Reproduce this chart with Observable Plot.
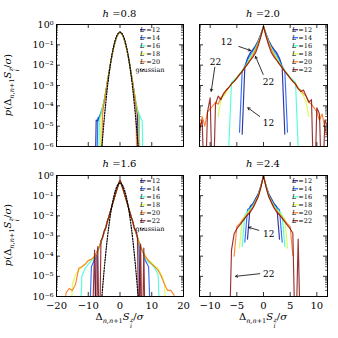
<!DOCTYPE html>
<html>
<head>
<meta charset="utf-8">
<script src="https://cdn.jsdelivr.net/npm/d3@7"></script>
<script src="https://cdn.jsdelivr.net/npm/@observablehq/plot@0.6"></script>
<style>
html,body{margin:0;padding:0;background:#fff;}
#root{position:relative;width:338px;height:338px;overflow:hidden;font-family:"DejaVu Serif",serif;color:#000;}
#root svg{position:absolute;}
.lbl{position:absolute;white-space:nowrap;font-family:"DejaVu Serif",serif;font-size:10px;line-height:1;transform:translate(-50%,-50%);}
.rot{transform:translate(-50%,-50%) rotate(-90deg);}
.ss{display:inline-flex;flex-direction:column;font-size:0.62em;line-height:0.95;vertical-align:-0.4em;margin-left:0.5px;}
.sb{font-size:0.65em;vertical-align:-0.35em;}
</style>
</head>
<body>
<div id="root"></div>
<script>
const _ = null;

// ---------- legend / series ----------
const sizesL = ["12","14","16","18","20","22"];
const colors = ["#00007f","#004cff","#29ffce","#ceff29","#ff6800","#7f0000"];

// ---------- ticks ----------
const yMajor = [1e-6,1e-5,1e-4,1e-3,1e-2,1e-1,1];
const yTickLabels = ["10\u207B\u2076","10\u207B\u2075","10\u207B\u2074","10\u207B\u00B3","10\u207B\u00B2","10\u207B\u00B9","10\u2070"];
const xTicksLeft = [-20,-10,0,10,20];
const xTicksRight = [-10,-5,0,5,10];

// ---------- h = 0.8 ----------
const xs08 = [-8,-7.5,-7,-6.5,-6,-5.5,-5,-4.5,-4,-3.5,-3,-2.5,-2,-1.5,-1,-0.5,0,0.5,1,1.5,2,2.5,3,3.5,4,4.5,5,5.5,6,6.5,7,7.5,8];
const h08_L12 = [0,2e-5,1.8e-5,3e-5,4e-5,7e-5,1.6e-4,4.5e-4,1.4e-3,4e-3,.012,.032,.075,.15,.26,.36,.42,.36,.26,.15,.075,.032,.012,4e-3,1.3e-3,4e-4,1.2e-4,4e-5,0,_,_,_,_];
const h08_L14 = [_,0,2.5e-5,2.8e-5,5e-5,8e-5,1.7e-4,4.6e-4,1.4e-3,4e-3,.012,.032,.075,.15,.26,.36,.42,.36,.26,.15,.075,.032,.012,4e-3,1.3e-3,4.2e-4,1.4e-4,6e-5,3e-5,0,_,_,_];
const h08_L16 = [_,_,0,2.2e-5,4.5e-5,9e-5,1.8e-4,4.8e-4,1.4e-3,4e-3,.012,.032,.075,.15,.26,.36,.42,.36,.26,.15,.075,.032,.012,4e-3,1.3e-3,4.4e-4,1.5e-4,7e-5,4e-5,2.6e-5,1.8e-5,0,_];
const h08_L18 = [_,_,_,0,3e-5,8e-5,1.8e-4,4.7e-4,1.4e-3,4e-3,.012,.032,.075,.15,.26,.36,.42,.36,.26,.15,.075,.032,.012,4e-3,1.3e-3,4.3e-4,1.5e-4,6e-5,2.5e-5,0,_,_,_];
const h08_L20 = [_,_,_,_,0,4e-5,1.5e-4,4.5e-4,1.4e-3,4e-3,.012,.032,.075,.15,.26,.36,.42,.36,.26,.15,.075,.032,.012,4e-3,1.3e-3,4e-4,1.2e-4,0,_,_,_,_,_];

// ---------- gaussian (dotted) ----------
const gaussX = [-6.5,-6,-5.5,-5,-4.5,-4,-3.5,-3,-2.5,-2,-1.5,-1,-0.5,0,0.5,1,1.5,2,2.5,3,3.5,4,4.5,5,5.5,6,6.5];
const gaussP = [2e-8,2.5e-7,2.4e-6,2e-5,1.3e-4,7.2e-4,3.2e-3,.0117,.035,.085,.171,.28,.38,.42,.38,.28,.171,.085,.035,.0117,3.2e-3,7.2e-4,1.3e-4,2e-5,2.4e-6,2.5e-7,2e-8];

// ---------- h = 1.6 ----------
const xs16 = [-18,-17,-16,-15,-14,-13,-12,-11,-10,-9,-8,-7.5,-7,-6.5,-6,-5.5,-5,-4.5,-4,-3.5,-3,-2.5,-2,-1.5,-1,-0.5,0,0.5,1,1.5,2,2.5,3,3.5,4,4.5,5,5.5,6,6.5,7,7.5,8,9,10,11,12,13,14,15,16,17,18];
const h16_L12 = [_,_,_,_,_,_,_,_,_,_,0,1.3e-4,2e-4,3e-4,5e-4,8.5e-4,1.5e-3,2.7e-3,5e-3,9e-3,.017,.032,.06,.11,.2,.35,.6,.35,.2,.11,.06,.032,.017,9e-3,5e-3,2.7e-3,1.5e-3,8e-4,4.5e-4,0,_,_,_,_,_,_,_,_,_,_,_,_,_];
const h16_L14 = [_,_,_,_,_,_,_,_,0,3e-5,7e-5,1.2e-4,1.9e-4,2.8e-4,4.6e-4,8.5e-4,1.5e-3,2.7e-3,5e-3,9e-3,.017,.032,.06,.11,.2,.35,.6,.35,.2,.11,.06,.032,.017,9e-3,5e-3,2.7e-3,1.5e-3,8.5e-4,4.6e-4,2.8e-4,1.9e-4,1.2e-4,6e-5,3e-5,0,_,_,_,_,_,_,_,_];
const h16_L16 = [_,_,_,_,_,0,1e-5,2.5e-5,4e-5,6e-5,8e-5,1.3e-4,2e-4,3e-4,4.8e-4,8.5e-4,1.5e-3,2.7e-3,5e-3,9e-3,.017,.032,.06,.11,.2,.35,.6,.35,.2,.11,.06,.032,.017,9e-3,5e-3,2.7e-3,1.5e-3,8.5e-4,4.8e-4,3e-4,2e-4,1.3e-4,8e-5,5e-5,4e-5,2.5e-5,1.2e-5,0,_,_,_,_,_];
const h16_L18 = [_,_,0,4e-6,1.2e-5,2e-5,3e-5,4e-5,6e-5,7e-5,9e-5,1.3e-4,2e-4,3e-4,5e-4,8.5e-4,1.5e-3,2.7e-3,5e-3,9e-3,.017,.032,.06,.11,.2,.35,.6,.35,.2,.11,.06,.032,.017,9e-3,5e-3,2.7e-3,1.5e-3,8.5e-4,5e-4,3e-4,2e-4,1.4e-4,9e-5,6e-5,5e-5,3e-5,2.5e-5,1.2e-5,5e-6,0,_,_,_];
const h16_L20 = [0,1.5e-6,2.5e-6,2e-6,4e-6,2.5e-5,3e-5,4e-5,6e-5,7e-5,1e-4,1.3e-4,2e-4,3e-4,5e-4,8.5e-4,1.5e-3,2.7e-3,5e-3,9e-3,.017,.032,.06,.11,.2,.35,.6,.35,.2,.11,.06,.032,.017,9e-3,5e-3,2.7e-3,1.5e-3,8.5e-4,5e-4,3e-4,2e-4,1.4e-4,1e-4,6e-5,4e-5,3e-5,2e-5,1e-5,4e-6,2e-6,2e-6,1.2e-6,0];
const h16_L22 = [_,_,_,_,_,_,_,_,_,0,2e-4,0,3e-4,0,6e-4,8e-4,1.8e-3,2.4e-3,5.5e-3,9e-3,.017,.032,.06,.11,.2,.35,.6,.35,.2,.11,.06,.032,.017,9e-3,5.5e-3,2.4e-3,1.8e-3,9e-4,0,4e-4,0,2.5e-4,0,_,_,_,_,_,_,_,_,_,_];

// ---------- h = 2.0 and h = 2.4 (shared bin grid) ----------
const xsR = [-12,-11.5,-11,-10.5,-10,-9.5,-9,-8.5,-8,-7.5,-7,-6.5,-6,-5.5,-5,-4.5,-4,-3.5,-3,-2.5,-2,-1.5,-1,-0.5,0,0.5,1,1.5,2,2.5,3,3.5,4,4.5,5,5.5,6,6.5,7,7.5,8,8.5,9,9.5,10,10.5,11,11.5,12];

const h20_L12 = [_,_,_,_,_,_,_,_,_,_,_,_,_,_,_,_,4e-6,8e-3,.022,.04,.058,.09,.16,.33,.8,.33,.16,.09,.058,.04,.022,8e-3,4e-6,_,_,_,_,_,_,_,_,_,_,_,_,_,_,_,_];
const h20_L14 = [_,_,_,_,_,_,_,_,_,_,_,_,_,_,_,5e-6,5e-3,9e-3,.018,.032,.05,.08,.15,.32,.8,.32,.15,.08,.05,.032,.018,9e-3,5e-3,5e-6,_,_,_,_,_,_,_,_,_,_,_,_,_,_,_];
const h20_L16 = [_,_,_,_,_,_,_,_,_,_,_,1e-6,1.4e-3,1.9e-3,2.6e-3,3.7e-3,5.5e-3,8e-3,.014,.025,.04,.07,.14,.31,.8,.31,.14,.07,.04,.025,.014,8e-3,5.5e-3,3.7e-3,2.6e-3,1.9e-3,1.4e-3,1e-6,_,_,_,_,_,_,_,_,_,_,_];
const h20_L18 = [_,_,_,_,_,_,_,3e-5,2e-4,3e-4,4.5e-4,8e-4,1.2e-3,1.7e-3,2.4e-3,3.5e-3,5.2e-3,7.8e-3,.012,.021,.034,.06,.125,.29,.8,.29,.125,.06,.034,.021,.012,7.8e-3,5.2e-3,3.5e-3,2.4e-3,1.7e-3,1.2e-3,8e-4,5e-4,3e-4,1.5e-4,3e-5,_,_,_,_,_,_,_];
const h20_L20 = [5e-6,3e-5,1e-5,5e-5,7e-5,1e-4,1.5e-4,1.2e-4,2.5e-4,3.5e-4,5.5e-4,8e-4,1.2e-3,1.6e-3,2.3e-3,3.4e-3,5e-3,7.6e-3,.0115,.018,.03,.055,.12,.28,.8,.28,.12,.055,.03,.018,.0115,7.6e-3,5e-3,3.4e-3,2.3e-3,1.6e-3,1.1e-3,7e-4,6e-4,4e-4,3e-4,1.5e-4,1.2e-4,8e-5,5e-5,2e-5,4e-5,8e-6,3e-6];
const h20_L22 = [8e-6,2e-5,0,5e-5,2.5e-4,0,1.2e-4,3e-4,2e-4,4e-4,6e-4,8e-4,1.2e-3,1.6e-3,2.3e-3,3.4e-3,5e-3,7.5e-3,.011,.017,.025,.04,.09,.25,.8,.25,.09,.04,.025,.017,.011,7.5e-3,5e-3,3.4e-3,2.3e-3,1.6e-3,1.2e-3,7e-4,5e-4,6e-4,3e-4,1.5e-4,2e-4,0,8e-5,4e-5,0,2e-5,1e-5];

const h24_L12 = [_,_,_,_,_,_,_,_,_,_,_,_,_,_,_,_,_,_,7e-4,.03,.04,.07,.12,.3,.95,.3,.12,.07,.04,.028,7e-4,_,_,_,_,_,_,_,_,_,_,_,_,_,_,_,_,_,_];
const h24_L14 = [_,_,_,_,_,_,_,_,_,_,_,_,_,_,_,_,_,5e-4,.02,.026,.036,.062,.11,.29,.95,.29,.11,.062,.036,.026,.02,5e-4,_,_,_,_,_,_,_,_,_,_,_,_,_,_,_,_,_];
const h24_L16 = [_,_,_,_,_,_,_,_,_,_,_,_,_,_,_,_,3e-4,.011,.016,.022,.032,.056,.1,.28,.95,.28,.1,.056,.032,.022,.016,.011,3e-4,_,_,_,_,_,_,_,_,_,_,_,_,_,_,_,_];
const h24_L18 = [_,_,_,_,_,_,_,_,_,_,_,_,_,_,_,2.5e-4,7e-3,9.5e-3,.014,.019,.029,.052,.095,.27,.95,.27,.095,.052,.029,.019,.014,9.5e-3,7e-3,2.5e-4,_,_,_,_,_,_,_,_,_,_,_,_,_,_,_];
const h24_L20 = [_,_,_,_,_,_,_,_,_,_,_,_,_,1e-4,3e-3,4e-3,5.8e-3,8.5e-3,.012,.017,.026,.048,.09,.26,.95,.26,.09,.048,.026,.017,.012,8.5e-3,5.8e-3,4e-3,3e-3,1.1e-4,_,_,_,_,_,_,_,_,_,_,_,_,_];
const h24_L22 = [_,_,_,_,_,_,_,_,_,_,_,0,2e-4,1.3e-3,2.3e-3,3.4e-3,5e-3,7.5e-3,.011,.015,.024,.045,.085,.25,.95,.25,.085,.045,.024,.015,.011,7.5e-3,5e-3,3.4e-3,2.3e-3,1.4e-3,0,7e-4,0,_,_,_,_,_,_,_,_,_,_];

// ---------- annotations (data coordinates) ----------
const ann20Text = ["12","22","22","12"];
const ann20TX = [-6.94, 0.94, -9.0, 0.94];
const ann20TY = [0.13, 1.4e-3, 0.0135, 1.35e-5];
const ann20X1 = [-4.63, -0.06, -9.13, -0.7];
const ann20Y1 = [0.083, 3.5e-3, 7.9e-3, 3e-5];
const ann20X2 = [-2.44, -1.5, -9.8, -2.94];
const ann20Y2 = [0.053, 0.027, 5.2e-4, 8e-5];

const ann24Text = ["12","22"];
const ann24TX = [1.0, 1.0];
const ann24TY = [1.3e-3, 1.3e-5];
const ann24X1 = [-0.88, -0.7];
const ann24Y1 = [1.9e-3, 1.35e-5];
const ann24X2 = [-2.76, -5.25];
const ann24Y2 = [2.7e-3, 1e-5];

// ---------- build ----------
const root = document.getElementById("root");
const FONT = "DejaVu Serif";

function checkLen(xs, arrs, name) {
  arrs.forEach((a, i) => { if (a.length !== xs.length) throw new Error(name + " series " + i + " length " + a.length + " != " + xs.length); });
}

const yMinor = [];
for (let k = -6; k < 0; k++) for (let m = 2; m < 10; m++) yMinor.push(m * Math.pow(10, k));

function panel(o) {
  checkLen(o.xs, o.series, o.name);
  const fw = o.width - o.mL - o.mR, fh = o.height - o.mT - o.mB;
  const marks = [];
  o.series.forEach((s, k) => {
    const rows = o.xs.map((x, i) => ({x, p: s[i] === null ? null : (s[i] === 0 ? 1e-9 : s[i])}));
    marks.push(Plot.line(rows, {x: "x", y: "p", stroke: colors[k], strokeOpacity: 0.8, strokeWidth: 1.15, clip: true}));
  });
  if (o.gauss) {
    const g = gaussX.map((x, i) => ({x, p: gaussP[i]}));
    marks.push(Plot.line(g, {x: "x", y: "p", stroke: "black", strokeWidth: 1.2, strokeDasharray: "1.2,1.5", curve: "monotone-x", clip: true}));
  }
  if (o.ann) {
    const a = o.ann;
    const arr = a.x1.map((_, i) => ({x1: a.x1[i], y1: a.y1[i], x2: a.x2[i], y2: a.y2[i]}));
    marks.push(Plot.arrow(arr, {x1: "x1", y1: "y1", x2: "x2", y2: "y2", stroke: "black", strokeWidth: 0.8, headLength: 4.5}));
    const txt = a.text.map((t, i) => ({t, x: a.tx[i], y: a.ty[i]}));
    marks.push(Plot.text(txt, {x: "x", y: "y", text: "t", fontSize: 9, fontFamily: FONT, fill: "black"}));
  }
  // inward ticks on all four sides
  marks.push(Plot.tickY(yMajor, {y: d => d, insetRight: fw - 4, stroke: "black", strokeWidth: 0.8}));
  marks.push(Plot.tickY(yMajor, {y: d => d, insetLeft: fw - 4, stroke: "black", strokeWidth: 0.8}));
  marks.push(Plot.tickY(yMinor, {y: d => d, insetRight: fw - 2, stroke: "black", strokeWidth: 0.6}));
  marks.push(Plot.tickY(yMinor, {y: d => d, insetLeft: fw - 2, stroke: "black", strokeWidth: 0.6}));
  marks.push(Plot.tickX(o.xTicks, {x: d => d, insetTop: fh - 4, stroke: "black", strokeWidth: 0.8}));
  marks.push(Plot.tickX(o.xTicks, {x: d => d, insetBottom: fh - 4, stroke: "black", strokeWidth: 0.8}));
  marks.push(Plot.frame({stroke: "black", strokeWidth: 1}));
  if (o.showY) marks.push(Plot.axisY(yMajor, {tickSize: 0, tickPadding: 3, fontSize: 9.5, fontFamily: FONT, label: null,
      tickFormat: d => yTickLabels[yMajor.indexOf(d)]}));
  if (o.showX) marks.push(Plot.axisX(o.xTicks, {tickSize: 0, tickPadding: 5, fontSize: 10, fontFamily: FONT, label: null,
      tickFormat: d => d < 0 ? "\u2212" + (-d) : String(d)}));
  const svg = Plot.plot({
    width: o.width, height: o.height,
    marginLeft: o.mL, marginRight: o.mR, marginTop: o.mT, marginBottom: o.mB,
    x: {domain: o.xDomain, axis: null, label: null},
    y: {type: "log", domain: [1e-6, 1], axis: null, label: null},
    style: {background: "transparent", overflow: "visible", fontFamily: FONT, color: "black"},
    marks
  });
  svg.style.left = o.left + "px";
  svg.style.top = o.top + "px";
  // legend
  const lg = o.legend;
  const G = d3.select(svg).append("g").attr("font-family", FONT).attr("font-size", 6.5);
  const xr = o.mL + fw;
  const entries = o.series.map((s, k) => ({L: sizesL[k], c: colors[k]}));
  if (o.gauss) entries.push({gauss: true});
  entries.forEach((e, i) => {
    const y = o.mT + 5.7 + i * 8;
    const ln = G.append("line").attr("x1", xr - lg.l0).attr("x2", xr - lg.l1).attr("y1", y).attr("y2", y);
    if (e.gauss) ln.attr("stroke", "black").attr("stroke-width", 1.2).attr("stroke-dasharray", "1.2,1.5");
    else ln.attr("stroke", e.c).attr("stroke-opacity", 0.8).attr("stroke-width", 1.3);
    const t = G.append("text").attr("x", xr - lg.t).attr("y", y).attr("dy", "0.35em");
    if (e.gauss) t.text("gaussian");
    else { t.append("tspan").attr("font-style", "italic").text("L"); t.append("tspan").text(" =" + e.L); }
  });
  root.appendChild(svg);
}

const legL = {l0: 43, l1: 37.5, t: 33};
const legR = {l0: 34.5, l1: 29, t: 25};

panel({name: "h08", xs: xs08, series: [h08_L12, h08_L14, h08_L16, h08_L18, h08_L20], gauss: true,
  xDomain: [-20, 20], xTicks: xTicksLeft, left: 0, top: 0, width: 190, height: 160,
  mL: 56, mR: 7, mT: 24, mB: 14, showY: true, showX: false, legend: legL});
panel({name: "h20", xs: xsR, series: [h20_L12, h20_L14, h20_L16, h20_L18, h20_L20, h20_L22], gauss: false,
  xDomain: [-12, 12], xTicks: xTicksRight, left: 186, top: 0, width: 152, height: 160,
  mL: 13, mR: 11, mT: 24, mB: 14, showY: false, showX: false, legend: legR,
  ann: {text: ann20Text, tx: ann20TX, ty: ann20TY, x1: ann20X1, y1: ann20Y1, x2: ann20X2, y2: ann20Y2}});
panel({name: "h16", xs: xs16, series: [h16_L12, h16_L14, h16_L16, h16_L18, h16_L20, h16_L22], gauss: true,
  xDomain: [-20, 20], xTicks: xTicksLeft, left: 0, top: 150, width: 190, height: 165,
  mL: 56, mR: 7, mT: 25, mB: 19, showY: true, showX: true, legend: legL});
panel({name: "h24", xs: xsR, series: [h24_L12, h24_L14, h24_L16, h24_L18, h24_L20, h24_L22], gauss: false,
  xDomain: [-12, 12], xTicks: xTicksRight, left: 186, top: 150, width: 152, height: 165,
  mL: 13, mR: 11, mT: 25, mB: 19, showY: false, showX: true, legend: legR,
  ann: {text: ann24Text, tx: ann24TX, ty: ann24TY, x1: ann24X1, y1: ann24Y1, x2: ann24X2, y2: ann24Y2}});

// ---------- titles and axis labels (HTML text) ----------
function addLabel(html, x, y, rot) {
  const d = document.createElement("div");
  d.className = "lbl" + (rot ? " rot" : "");
  d.style.left = x + "px"; d.style.top = y + "px";
  d.innerHTML = html;
  root.appendChild(d);
}
const panelTitles = ["0.8", "2.0", "1.6", "2.4"];
const titlePos = [[119.5, 14], [263, 14], [119.5, 164], [263, 164]];
panelTitles.forEach((t, i) => addLabel("<i>h</i> =" + t, titlePos[i][0], titlePos[i][1], false));
const sz = '<i>S</i><span class="ss"><i>z</i><i>i</i></span>';
const dl = 'Δ<span class="sb"><i>n</i>,<i>n</i>+1</span>' + sz + '/<i>σ</i>';
addLabel('<i>p</i>(' + dl + ')', 12, 85, true);
addLabel('<i>p</i>(' + dl + ')', 12, 235, true);
addLabel(dl, 119.5, 321, false);
addLabel(dl, 263, 321, false);
</script>
</body>
</html>
